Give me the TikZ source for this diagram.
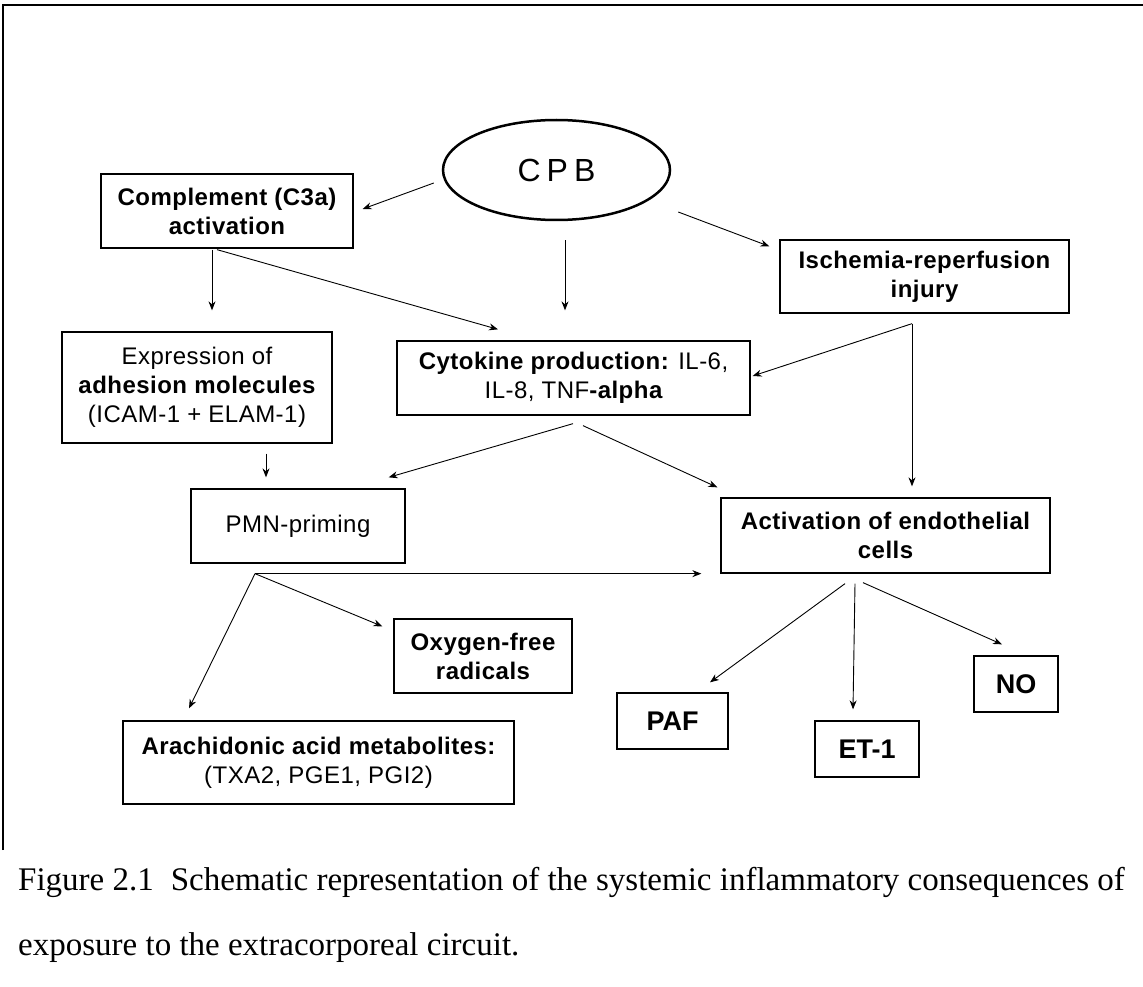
\documentclass[tikz,border=0pt]{standalone}
\usepackage{fontspec}
\newfontfamily\lsans{Liberation Sans}[LetterSpace=2]
\newfontfamily\lplain{Liberation Sans}
\newfontfamily\capf{Liberation Serif}
\usetikzlibrary{arrows.meta,shapes.geometric}
\begin{document}
\begin{tikzpicture}[x=1pt,y=-1pt,
  box/.style={draw,line width=1.3pt,inner sep=0pt,align=center,
    font=\lsans\bfseries\fontsize{24}{29}\selectfont},
  tbox/.style={box,font=\lplain\bfseries\fontsize{27}{30}\selectfont},
  arr/.style={line width=0.9pt,-{Stealth[length=9pt,width=7pt]}},
  captext/.style={anchor=base west,inner sep=0pt,font=\capf\fontsize{33}{40}\selectfont},
]
\useasboundingbox (0,0) rectangle (1143,987);
% frame
\draw[line width=2pt] (3,850) -- (3,5) -- (1143,5);

% nodes
\node[draw,ellipse,line width=2.5pt,minimum width=227pt,minimum height=100pt,inner sep=0pt,
  font=\lplain\fontsize{32}{36}\selectfont] (cpb) at (556.5,170) {C\kern6pt P\kern6pt B};
\node[box,minimum width=252pt,minimum height=74pt] (comp) at (227,211)
  {Complement (C3a)\\activation};
\node[box,minimum width=270pt,minimum height=111pt] (expr) at (197,387.5)
  {{\mdseries Expression of}\\adhesion molecules\\{\mdseries (ICAM-1 + ELAM-1)}};
\node[box,minimum width=353pt,minimum height=74pt] (cyto) at (573.5,378)
  {Cytokine production: {\mdseries IL-6,}\\{\mdseries IL-8, TNF}-alpha};
\node[box,minimum width=289pt,minimum height=73pt] (isch) at (924.5,276.5)
  {Ischemia-reperfusion\\injury};
\node[box,minimum width=214pt,minimum height=74pt] (pmn) at (298,526)
  {\mdseries PMN-priming};
\node[box,minimum width=329pt,minimum height=75pt] (act) at (885.5,535.5)
  {Activation of endothelial\\cells};
\node[box,minimum width=178pt,minimum height=74pt] (oxy) at (483,656)
  {Oxygen-free\\radicals};
\node[box,minimum width=391pt,minimum height=83pt] (arach) at (318.5,762.5)
  {Arachidonic acid metabolites:\\{\mdseries (TXA2, PGE1, PGI2)}};
\node[tbox,minimum width=111pt,minimum height=56pt] (paf) at (672.5,721) {PAF};
\node[tbox,minimum width=104pt,minimum height=56pt] (et1) at (867,749) {ET-1};
\node[tbox,minimum width=84pt,minimum height=56pt] (no) at (1016,684) {NO};

% junctions
\coordinate (ischj) at ([shift={(-12.5,10)}]isch.south);
\coordinate (pmnj) at ([shift={(-43,10)}]pmn.south);

% connectors
\draw[arr] ([shift={(-8,13)}]cpb.west) -- ([shift={(9,-2)}]comp.east);
\draw[arr] ([shift={(-15,1)}]comp.south) -- ([shift={(15,-21)}]expr.north);
\draw[arr] ([shift={(-10,1)}]comp.south) -- ([shift={(-75.5,-11)}]cyto.north);
\draw[arr] ([shift={(8.5,19)}]cpb.south) -- ([shift={(-8.5,-30)}]cyto.north);
\draw[arr] ([shift={(7,42)}]cpb.east) -- ([shift={(-10,7)}]isch.north west);
\draw[arr] (ischj) -- ([shift={(2,-2)}]cyto.east);
\draw[arr] (ischj) -- ([shift={(26.5,-11)}]act.north);
\draw[arr] ([shift={(69,10)}]expr.south) -- ([shift={(-32,-11)}]pmn.north);
\draw[arr] ([shift={(-0.5,8)}]cyto.south) -- ([shift={(-17,-11)}]pmn.north east);
\draw[arr] ([shift={(9.5,10)}]cyto.south) -- ([shift={(-3,-10)}]act.north west);
\draw[arr] (pmnj) -- ([shift={(-19,0)}]act.south west);
\draw[arr] (pmnj) -- ([shift={(-129.5,-12)}]arach.north);
\draw[arr] (pmnj) -- ([shift={(-11,8)}]oxy.north west);
\draw[arr] ([shift={(-40.5,10)}]act.south) -- ([shift={(37.5,-10)}]paf.north);
\draw[arr] ([shift={(-30.5,10)}]act.south) -- ([shift={(-14,-11)}]et1.north);
\draw[arr] ([shift={(-22.5,9)}]act.south) -- ([shift={(-14,-11)}]no.north);

% caption
\node[captext] (cap1) at (18,890)
  {Figure 2.1\hspace{17pt}Schematic representation of the systemic inflammatory consequences of};
\node[captext] (cap2) at (18,955) {exposure to the extracorporeal circuit.};
\end{tikzpicture}
\end{document}
